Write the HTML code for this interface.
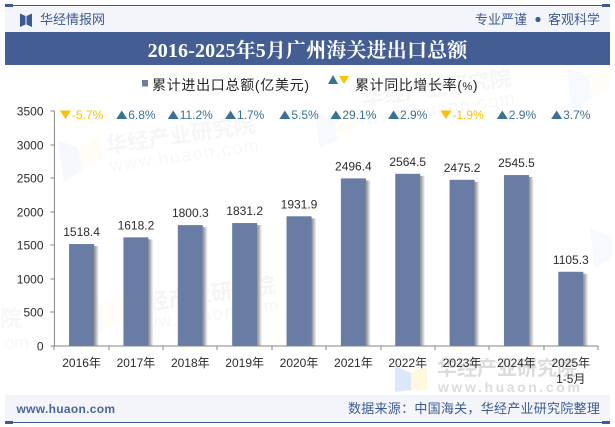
<!DOCTYPE html>
<html lang="zh">
<head>
<meta charset="utf-8">
<title>2016-2025年5月广州海关进出口总额</title>
<style>
html,body{margin:0;padding:0;background:#fff;}
body{width:615px;height:427px;overflow:hidden;}
svg{display:block;}
text{font-family:"Liberation Sans","Noto Sans CJK SC",sans-serif;}
</style>
</head>
<body>
<svg id="chart" xmlns="http://www.w3.org/2000/svg" width="615" height="427" viewBox="0 0 615 427">
  <defs>
    <linearGradient id="shadowGrad" x1="0" x2="1" y1="0" y2="0">
      <stop offset="0" stop-color="#8a8a8a"/>
      <stop offset="1" stop-color="#ffffff"/>
    </linearGradient>
  </defs>
  <rect width="615" height="427" fill="#fff"/>

  <g id="watermarks">
    <g transform="rotate(-8 107 153)">
      <text x="107" y="153" font-size="21.5" font-weight="700" fill="#f6f6f6">华经产业研究院</text>
      <text x="108" y="172" font-size="18" letter-spacing="1.5" fill="#f7f7f7">www.huaon.com</text>
    </g>
    <polygon points="58,140 78,148 82,170 64,182" fill="#f5f8fd"/>
    <polygon points="78,148 98,134 102,160 82,170" fill="#fffdf4"/>
    <g transform="rotate(-8 363 106)">
      <text x="363" y="106" font-size="21.5" font-weight="700" fill="#f6f6f6">华经产业研究院</text>
      <text x="364" y="125" font-size="18" letter-spacing="1.5" fill="#f7f7f7">www.huaon.com</text>
    </g>
    <polygon points="567,68 588,76 592,98 572,110" fill="#f6f9fd"/>
    <polygon points="588,76 608,64 610,88 592,98" fill="#fffdf5"/>
    <polygon points="315,112 334,120 338,140 320,148" fill="#f6f9fd"/>
    <polygon points="334,120 352,108 356,130 338,140" fill="#fffdf5"/>
    <polygon points="590,228 612,236 612,258 595,268" fill="#f6f9fd"/>
    <g transform="rotate(-8 127 313)">
      <text x="127" y="313" font-size="21.5" font-weight="700" fill="#f5f5f5">华经产业研究院</text>
      <text x="128" y="332" font-size="18" letter-spacing="1.5" fill="#f7f7f7">www.huaon.com</text>
    </g>
    <polygon points="80,296 100,304 102,330 85,340" fill="#f6f9fd"/>
    <polygon points="100,304 122,292 124,320 102,330" fill="#fffdf5"/>
    <text x="0" y="326" font-size="22" font-weight="700" fill="#f7f7f7">院</text>
    <text x="4" y="349" font-size="18" fill="#f8f8f8">om</text>
    <g>
      <polygon points="395,366 411,373 411,390 395,392" fill="#dbe8fb"/>
      <polygon points="411,373 427,366 427,390 411,390" fill="#fff8dd"/>
      <text x="437" y="375" font-size="20" font-weight="700" fill="#dcdcdc">华经产业研究院</text>
      <text x="438" y="392" font-size="14" font-weight="700" letter-spacing="2.6" fill="#dcdcdc">www.huaon.com</text>
    </g>
  </g>

  <g>
    <rect x="5" y="6" width="605" height="26" fill="#f3f5fa"/>
    <rect x="5" y="5" width="605" height="1" fill="#3c5a94"/>
    <rect x="5" y="4" width="8" height="3" fill="#3c5a94"/>
    <rect x="602" y="4" width="8" height="3" fill="#3c5a94"/>
    <path d="M20 13.5 L25.5 16 L25.5 24.5 L20 27 Z M26.5 16 L32 13.5 L32 27 L26.5 24.5 Z" fill="#3c5a94"/>
    <text x="40" y="24" font-size="13" fill="#3c5a94">华经情报网</text>
    <text x="475" y="24" font-size="13" fill="#3c5a94">专业严谨</text>
    <circle cx="538" cy="19.5" r="2.6" fill="#3c5a94"/>
    <text x="548" y="24" font-size="13" fill="#3c5a94">客观科学</text>
  </g>

  <rect x="5" y="32" width="605" height="33" fill="#445e94"/>
  <text x="307.5" y="57" text-anchor="middle" font-size="20" font-weight="700" letter-spacing="0.15" fill="#fff" style="font-family:'Liberation Serif','Noto Serif CJK SC',serif">2016-2025年5月广州海关进出口总额</text>

  <g>
    <rect x="142" y="80" width="6" height="6.5" fill="#687ca4"/>
    <text x="152" y="90" font-size="14" letter-spacing="0.7" fill="#262626">累计进出口总额(亿美元)</text>
    <polygon points="333,75 338,84 328,84" fill="#3a7296"/>
    <polygon points="339,76 349,76 344,84" fill="#ffc000"/>
    <text x="355" y="90" font-size="14" letter-spacing="0.6" fill="#262626">累计同比增长率(<tspan font-size="11">%</tspan>)</text>
  </g>

  <g id="plot"></g>

  <g>
    <rect x="5" y="395" width="605" height="27" fill="#f3f5fa"/>
    <rect x="5" y="422" width="605" height="1" fill="#3c5a94"/>
    <rect x="5" y="421" width="8" height="3" fill="#3c5a94"/>
    <rect x="602" y="421" width="8" height="3" fill="#3c5a94"/>
    <text x="16.5" y="413" font-size="12" letter-spacing="0.3" font-weight="700" fill="#4a659c">www.huaon.com</text>
    <text x="348" y="413" font-size="13" letter-spacing="0.27" fill="#3c5a94">数据来源&#xFF1A;中国海关&#xFF0C;华经产业研究院整理</text>
  </g>
</svg>

<script>
const categories = ['2016年','2017年','2018年','2019年','2020年','2021年','2022年','2023年','2024年','2025年'];
const categorySubLabels = ['','','','','','','','','','1-5月'];
const totals = [1518.4,1618.2,1800.3,1831.2,1931.9,2496.4,2564.5,2475.2,2545.5,1105.3];
const growth = [-5.7,6.8,11.2,1.7,5.5,29.1,2.9,-1.9,2.9,3.7];
const yTicks = [0,500,1000,1500,2000,2500,3000,3500];

const NS = 'http://www.w3.org/2000/svg';
const plot = document.getElementById('plot');
const X0 = 54.4, X1 = 598, Y0 = 346, Y1 = 111, YMAX = 3500, BAR_W = 25, AXIS = '#868686', INK = '#2b2b2b';
const band = (X1 - X0) / categories.length;
const xPos = i => X0 + band * i;
const xMid = i => xPos(i) + band / 2;
const yPos = v => Y0 - (Y0 - Y1) * v / YMAX;

function mk(tag, attrs, text) {
  const el = document.createElementNS(NS, tag);
  for (const k in attrs) el.setAttribute(k, attrs[k]);
  if (text !== undefined) el.textContent = text;
  plot.appendChild(el);
  return el;
}

totals.forEach((v, i) => {
  const x = xMid(i) - BAR_W / 2;
  const y = yPos(v);
  const shadow = mk('rect', {x: x + BAR_W, y: y + 2, width: 5, height: Y0 - y - 2, fill: 'url(#shadowGrad)'});
  
  
  const bar = mk('rect', {x: x, y: y, width: BAR_W, height: Y0 - y, fill: '#687ca4'});
  
  
  const label = mk('text', {x: xMid(i), y: y - 8, 'text-anchor': 'middle', 'font-size': 12, fill: INK}, v.toFixed(1));
  
  
});

const yAxis = mk('line', {x1: X0, x2: X0, y1: Y1, y2: Y0, stroke: AXIS, 'stroke-width': 1});


const xAxis = mk('line', {x1: X0, x2: X1, y1: Y0, y2: Y0, stroke: AXIS, 'stroke-width': 1});



yTicks.forEach(t => {
  const y = Math.round(yPos(t));
  const tick = mk('line', {x1: X0 - 4, x2: X0, y1: y, y2: y, stroke: AXIS, 'stroke-width': 1});
  
  
  const label = mk('text', {x: 43.5, y: y + 4.5, 'text-anchor': 'end', 'font-size': 12, fill: INK}, String(t));
  
  
});

for (let i = 0; i <= categories.length; i++) {
  const x = Math.round(xPos(i));
  const tick = mk('line', {x1: x, x2: x, y1: Y0, y2: Y0 + 4, stroke: AXIS, 'stroke-width': 1});
  
  
}

categories.forEach((c, i) => {
  const label = mk('text', {x: xMid(i), y: 367, 'text-anchor': 'middle', 'font-size': 12, fill: INK}, c);
  
  
  if (categorySubLabels[i]) {
    const sub = mk('text', {x: xMid(i), y: 383, 'text-anchor': 'middle', 'font-size': 12, fill: INK}, categorySubLabels[i]);
    
    
  }
});

growth.forEach((g, i) => {
  const color = g < 0 ? '#ffc000' : '#3a7296';
  const txt = mk('text', {x: 0, y: 119, 'font-size': 12, fill: color}, g.toFixed(1) + '%');
  
  
  const w = txt.getComputedTextLength();
  const left = xMid(i) - (w + 12) / 2;
  txt.setAttribute('x', left + 12);
  const pts = g < 0
    ? [[left, 110.5], [left + 11, 110.5], [left + 5.5, 119]]
    : [[left + 5.5, 110.5], [left + 11, 119], [left, 119]];
  const tri = mk('polygon', {points: pts.map(p => p.join(',')).join(' '), fill: color});
  
  
});
</script>
</body>
</html>
